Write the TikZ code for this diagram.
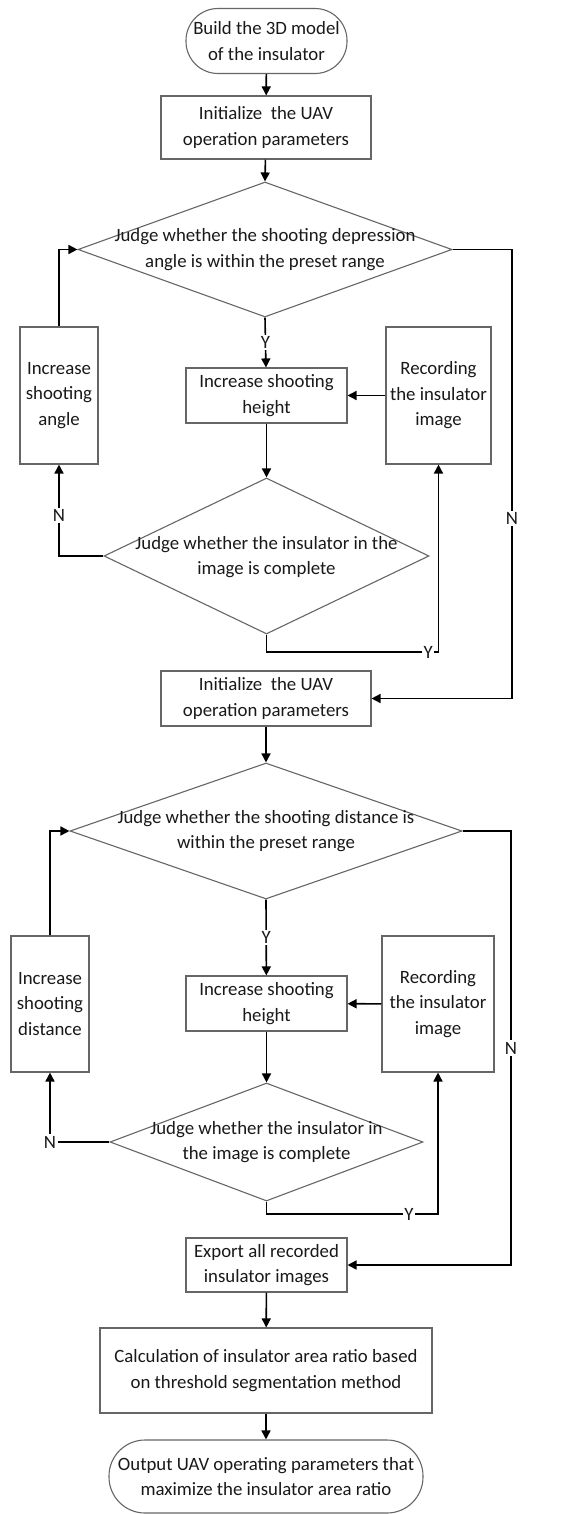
\documentclass[tikz,border=0pt]{standalone}
\usepackage{fontspec}
\setmainfont{Carlito}
\usetikzlibrary{shapes.geometric,arrows.meta}
\begin{document}
\begin{tikzpicture}[x=1pt,y=-1pt,
  every node/.style={font=\fontsize{18.8}{25.5}\selectfont, text=black!90},
  box/.style={draw=black!60, line width=1.1pt, rectangle, inner sep=0pt, align=center},
  term/.style={box, rounded corners=#1},
  dia/.style={draw=black!60, line width=1.1pt, diamond, inner sep=0pt, minimum width=#1},
  txt/.style={inner sep=0pt, align=center},
  conn/.style={line width=1.6pt, draw=black, -{Triangle[length=9pt,width=9pt]}},
  lab/.style={fill=white, inner sep=1.5pt}
]
\useasboundingbox (0,0) rectangle (588,1514);
\fill[white] (0,0) rectangle (588,1514);

% nodes
\node[term=32pt, minimum width=161pt, minimum height=65pt] (start) at (266.5,41) {Build the 3D model\\of the insulator};
\node[box, minimum width=210pt, minimum height=63pt] (init1) at (266,127.5) {Initialize\ \ the UAV\\operation parameters};

\node[dia=374pt, minimum height=135pt] (d1) at (265,249.5) {};
\node[txt] (d1t) at (265,249.5) {Judge whether the shooting depression\\angle is within the preset range};

\node[box, minimum width=78pt, minimum height=137pt] (ang1) at (59,395.5) {Increase\\shooting\\angle};
\node[box, minimum width=161pt, minimum height=55pt] (h1) at (266.5,395.5) {Increase shooting\\height};
\node[box, minimum width=105pt, minimum height=137pt] (rec1) at (438.5,395.5) {Recording\\the insulator\\image};

\node[dia=325pt, minimum height=156pt] (d2) at (266.5,556) {};
\node[txt] (d2t) at (266.5,557) {Judge whether the insulator in the\\image is complete};

\node[box, minimum width=210pt, minimum height=55pt] (init2) at (266,698.5) {Initialize\ \ the UAV\\operation parameters};

\node[dia=392pt, minimum height=136pt] (d3) at (266,831) {};
\node[txt] (d3t) at (266,831) {Judge whether the shooting distance is\\within the preset range};

\node[box, minimum width=78pt, minimum height=136pt] (dist) at (50,1004) {Increase\\shooting\\distance};
\node[box, minimum width=161pt, minimum height=55pt] (h2) at (266.5,1003.5) {Increase shooting\\height};
\node[box, minimum width=112pt, minimum height=136pt] (rec2) at (438,1004) {Recording\\the insulator\\image};

\node[dia=313pt, minimum height=118pt] (d4) at (266.5,1142) {};
\node[txt] (d4t) at (266.5,1142) {Judge whether the insulator in\\the image is complete};

\node[box, minimum width=161pt, minimum height=54pt] (exp) at (266.5,1265) {Export all recorded\\insulator images};
\node[box, minimum width=332pt, minimum height=85pt] (calc) at (266,1370.5) {Calculation of insulator area ratio based\\on threshold segmentation method};
\node[term=36pt, minimum width=314pt, minimum height=73pt] (end) at (266,1476.5) {Output UAV operating parameters that\\maximize the insulator area ratio};

% helper coordinates
\coordinate (r1) at (512,249.5);
\coordinate (r1b) at (512,698.5);
\coordinate (y1) at (266.5,652);
\coordinate (y1r) at (438.5,652);
\coordinate (r3) at (511,831);
\coordinate (r3b) at (511,1265);
\coordinate (y2) at (266.5,1214);
\coordinate (y2r) at (438,1214);

% connectors
\draw[conn] (start) -- (init1);
\draw[conn] (init1) -- (d1.north);
\draw[conn] (d1.south) -- node[lab, pos=0.5]{Y} (h1);
\draw[conn] (rec1) -- (h1);
\draw[conn] (h1) -- (d2.north);
\draw[conn] (d2.west) -| node[lab, pos=0.72]{N} (ang1.south);
\draw[conn] (ang1.north) |- (d1.west);
\draw[conn] (d2.south) -- (y1) -- node[lab, pos=0.94]{Y} (y1r) -- (rec1.south);
\draw[conn] (d1.east) -- (r1) -- node[lab, pos=0.6]{N} (r1b) -- (init2.east);

\draw[conn] (init2) -- (d3.north);
\draw[conn] (d3.south) -- node[lab, pos=0.5]{Y} (h2);
\draw[conn] (rec2) -- (h2);
\draw[conn] (h2) -- (d4.north);
\draw[conn] (d4.west) -| node[lab, pos=0.5]{N} (dist.south);
\draw[conn] (dist.north) |- (d3.west);
\draw[conn] (d4.south) -- (y2) -- node[lab, pos=0.83]{Y} (y2r) -- (rec2.south);
\draw[conn] (d3.east) -- (r3) -- node[lab, pos=0.5]{N} (r3b) -- (exp.east);

\draw[conn] (exp) -- (calc);
\draw[conn] (calc) -- (end);
\end{tikzpicture}
\end{document}
